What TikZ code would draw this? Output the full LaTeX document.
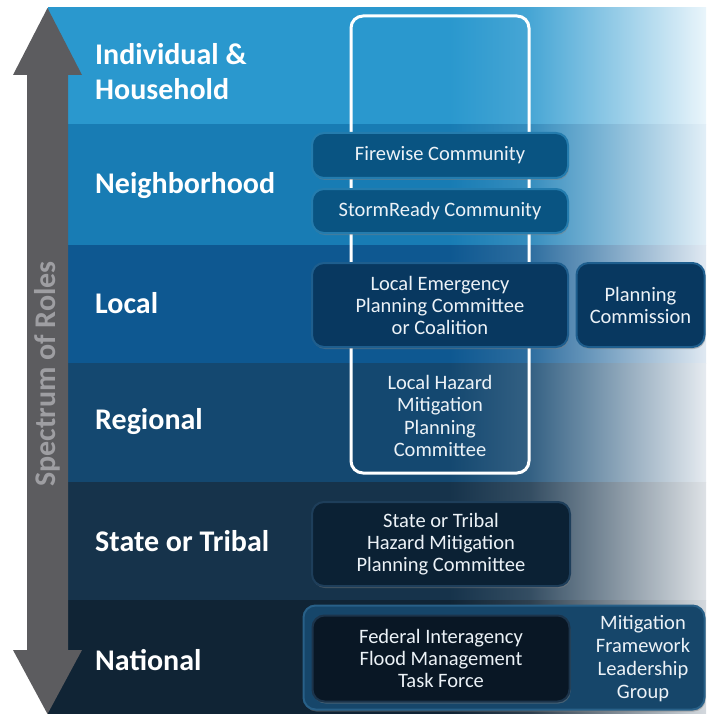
\documentclass[tikz,border=0pt]{standalone}
\usepackage{fontspec}
\setmainfont{Carlito}
\usetikzlibrary{shadows}
\definecolor{bandA}{RGB}{42,152,206}
\definecolor{bandAe}{RGB}{234,245,251}
\definecolor{bandB}{RGB}{24,124,180}
\definecolor{bandBe}{RGB}{226,239,247}
\definecolor{bandC}{RGB}{14,88,145}
\definecolor{bandCe}{RGB}{224,233,242}
\definecolor{bandD}{RGB}{20,72,112}
\definecolor{bandDe}{RGB}{230,235,240}
\definecolor{bandE}{RGB}{22,51,75}
\definecolor{bandEe}{RGB}{222,226,230}
\definecolor{bandF}{RGB}{16,36,53}
\definecolor{bandFe}{RGB}{212,217,222}
\definecolor{arrowgray}{RGB}{92,92,95}
\definecolor{spectxt}{RGB}{158,158,162}
\definecolor{boxtxt}{RGB}{236,242,247}
\definecolor{nbcore}{RGB}{9,84,130}
\definecolor{nbrim}{RGB}{36,124,174}
\definecolor{lccore}{RGB}{8,56,96}
\definecolor{lcrim}{RGB}{30,94,142}
\definecolor{stcore}{RGB}{11,33,52}
\definecolor{strim}{RGB}{30,62,90}
\definecolor{fdcore}{RGB}{9,23,37}
\definecolor{fdrim}{RGB}{28,52,75}
\definecolor{natcore}{RGB}{22,70,106}
\definecolor{natrim}{RGB}{40,96,136}
\colorlet{bandL}{bandA}
\colorlet{bandR}{bandAe}
\colorlet{bandMa}{bandA}
\colorlet{bandMb}{bandA}
\colorlet{bandMc}{bandA}
\pgfdeclarehorizontalshading[bandL,bandMa,bandMb,bandMc,bandR]{bandfade}{100bp}{%
  color(0bp)=(bandL); color(25bp)=(bandL); color(55.5bp)=(bandL);
  color(61.6bp)=(bandMa); color(66.9bp)=(bandMb); color(70.7bp)=(bandMc);
  color(75bp)=(bandR); color(100bp)=(bandR)}
\tikzset{
  bandlabel/.style={anchor=west, text=white, align=left,
    font=\fontsize{30}{35}\selectfont\bfseries, inner sep=0pt},
  rolebox/.style 2 args={rounded corners=12pt, fill=#1, draw=#2, line width=2pt,
    text=boxtxt, align=center, font=\fontsize{20.5}{22}\selectfont,
    inner sep=0pt, drop shadow={opacity=0.45, shadow xshift=1pt, shadow yshift=-2pt}},
  plaintext/.style={text=boxtxt, align=center, font=\fontsize{20.5}{22.5}\selectfont, inner sep=0pt}
}
\begin{document}
\begin{tikzpicture}[x=1pt,y=-1pt]
\useasboundingbox (0,0) rectangle (706,714);
\fill[white] (0,0) rectangle (706,714);
% bands
\foreach \c/\t/\b in {bandA/8/125, bandB/125/245, bandC/245/363, bandD/363/482, bandE/482/600, bandF/600/714}{
  \colorlet{bandL}{\c}\colorlet{bandR}{\c e}
  \colorlet{bandMa}{\c!85!\c e}\colorlet{bandMb}{\c!52!\c e}\colorlet{bandMc}{\c!28!\c e}
  \shade[shading=bandfade] (48,\t) rectangle (706,\b);
}
% arrow
\fill[arrowgray] (47.5,8) -- (82,75) -- (68,75) -- (68,650) -- (82,650) -- (47.5,714)
  -- (13,650) -- (27,650) -- (27,75) -- (13,75) -- cycle;
\node[rotate=90, text=spectxt, font=\fontsize{30}{30}\selectfont\bfseries, inner sep=0pt] (spec) at (47.5,374) {Spectrum of Roles};
% band labels
\node[bandlabel] (ind) at (95,72) {Individual \&\\Household};
\node[bandlabel] (nbh) at (95,186) {Neighborhood};
\node[bandlabel] (loc) at (95,303) {Local};
\node[bandlabel] (reg) at (95,422) {Regional};
\node[bandlabel] (sta) at (95,541) {State or Tribal};
\node[bandlabel] (nat) at (95,660) {National};
% white outline (local hazard mitigation planning committee)
\node[draw=white, line width=3pt, rounded corners=12pt, minimum width=178pt, minimum height=457pt, inner sep=0pt] (outline) at (440,244.5) {};
\node[plaintext] (lhmpc) at (440,416) {Local Hazard\\Mitigation\\Planning\\Committee};
% boxes
\node[rolebox={nbcore}{nbrim}, minimum width=256pt, minimum height=45pt] (fire) at (440,155.5) {Firewise Community};
\node[rolebox={nbcore}{nbrim}, minimum width=256pt, minimum height=44pt] (storm) at (440,211) {StormReady Community};
\node[rolebox={lccore}{lcrim}, minimum width=256pt, minimum height=84pt] (lepc) at (440,305) {Local Emergency\\Planning Committee\\or Coalition};
\node[rolebox={lccore}{lcrim}, minimum width=128pt, minimum height=84pt] (pc) at (640.5,305) {Planning\\Commission};
\node[rolebox={stcore}{strim}, minimum width=258pt, minimum height=84pt] (state) at (441,544) {State or Tribal\\Hazard Mitigation\\Planning Committee};
\node[rolebox={natcore}{natrim}, minimum width=401pt, minimum height=104pt] (natbox) at (504,657.5) {};
\node[rolebox={fdcore}{fdrim}, minimum width=257pt, minimum height=86pt] (fed) at (441,658.5) {Federal Interagency\\Flood Management\\Task Force};
\node[plaintext, font=\fontsize{20.5}{23}\selectfont] (mflg) at (643,659) {Mitigation\\Framework\\Leadership\\Group};
\end{tikzpicture}
\end{document}
